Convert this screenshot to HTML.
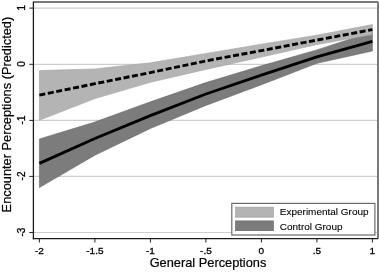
<!DOCTYPE html>
<html><head><meta charset="utf-8"><style>html,body{margin:0;padding:0;background:#fff;width:379px;height:272px;overflow:hidden}svg{display:block}</style></head>
<body><svg width="379" height="272" viewBox="0 0 379 272">
<style>
.g{stroke:#cdcdcd;stroke-width:1.2}
.t{stroke:#222;stroke-width:1}
.tl{font-family:"Liberation Sans",Arial,sans-serif;font-size:10px;fill:#000;stroke:#000;stroke-width:0.3px}
.ti{font-family:"Liberation Sans",Arial,sans-serif;font-size:12.8px;fill:#000;stroke:#000;stroke-width:0.2px}
.lg{font-family:"Liberation Sans",Arial,sans-serif;font-size:10px;fill:#000;stroke:#000;stroke-width:0.1px}
</style>
<rect x="0" y="0" width="379" height="272" fill="#fff"/>
<line x1="34" x2="377" y1="8.1" y2="8.1" class="g"/><line x1="34" x2="377" y1="64.3" y2="64.3" class="g"/><line x1="34" x2="377" y1="120.4" y2="120.4" class="g"/><line x1="34" x2="377" y1="176.4" y2="176.4" class="g"/><line x1="34" x2="377" y1="232.5" y2="232.5" class="g"/>
<polygon points="39.40,139.00 94.90,122.00 150.40,101.80 205.90,82.60 261.40,65.80 316.90,49.90 372.40,31.80 372.40,51.00 316.90,63.30 261.40,84.80 205.90,105.40 150.40,128.50 94.90,155.20 39.40,187.60" fill="#7c7c7c" stroke="#686868" stroke-width="0.6" stroke-linejoin="round"/>
<polygon points="39.40,70.60 94.90,68.90 150.40,62.80 205.90,53.50 261.40,44.20 316.90,35.20 372.40,24.60 372.40,34.60 316.90,44.60 261.40,57.10 205.90,69.40 150.40,82.30 94.90,98.60 39.40,120.20" fill="#b4b4b4" stroke="#a2a2a2" stroke-width="0.6" stroke-linejoin="round"/>
<polyline points="39.40,95.10 94.90,83.70 150.40,72.60 205.90,60.90 261.40,50.60 316.90,40.10 372.40,29.60" fill="none" stroke="#000" stroke-width="2.9" stroke-dasharray="6.0 2.59"/>
<polyline points="39.40,163.40 94.90,138.50 150.40,115.60 205.90,94.00 261.40,75.10 316.90,56.80 372.40,41.40" fill="none" stroke="#000" stroke-width="2.9"/>
<rect x="231.8" y="203.4" width="143.1" height="31.6" fill="#fff" stroke="#6a6a6a" stroke-width="1.2"/>
<rect x="235.5" y="207.1" width="38.0" height="10.1" fill="#b4b4b4" stroke="#9c9c9c" stroke-width="0.6"/>
<rect x="235.5" y="220.9" width="38.0" height="9.8" fill="#7c7c7c" stroke="#626262" stroke-width="0.6"/>
<text transform="translate(279.8 215.4) scale(1 0.91)" class="lg">Experimental Group</text>
<text transform="translate(279.8 230.0) scale(1 0.91)" class="lg">Control Group</text>
<line x1="33.5" y1="2" x2="378" y2="2" stroke="#7a7a7a" stroke-width="2"/>
<line x1="378" y1="2" x2="378" y2="238.4" stroke="#7a7a7a" stroke-width="2"/>
<line x1="33.4" y1="1.5" x2="33.4" y2="239.3" stroke="#1c1c1c" stroke-width="1.3"/>
<line x1="32.8" y1="238.6" x2="378" y2="238.6" stroke="#1c1c1c" stroke-width="1.4"/>
<line x1="29.3" x2="33" y1="8.1" y2="8.1" class="t"/><line x1="29.3" x2="33" y1="64.3" y2="64.3" class="t"/><line x1="29.3" x2="33" y1="120.4" y2="120.4" class="t"/><line x1="29.3" x2="33" y1="176.4" y2="176.4" class="t"/><line x1="29.3" x2="33" y1="232.5" y2="232.5" class="t"/><line x1="39.40" x2="39.40" y1="239" y2="242.5" class="t"/><line x1="94.90" x2="94.90" y1="239" y2="242.5" class="t"/><line x1="150.40" x2="150.40" y1="239" y2="242.5" class="t"/><line x1="205.90" x2="205.90" y1="239" y2="242.5" class="t"/><line x1="261.40" x2="261.40" y1="239" y2="242.5" class="t"/><line x1="316.90" x2="316.90" y1="239" y2="242.5" class="t"/><line x1="372.40" x2="372.40" y1="239" y2="242.5" class="t"/><text transform="translate(25.1 7.65) rotate(-90)" text-anchor="middle" class="tl">1</text><text transform="translate(25.1 63.85) rotate(-90)" text-anchor="middle" class="tl">0</text><text transform="translate(25.1 119.95) rotate(-90)" text-anchor="middle" class="tl">-1</text><text transform="translate(25.1 175.95) rotate(-90)" text-anchor="middle" class="tl">-2</text><text transform="translate(25.1 232.05) rotate(-90)" text-anchor="middle" class="tl">-3</text><text transform="translate(39.40 253.9) scale(1 0.93)" text-anchor="middle" class="tl">-2</text><text transform="translate(94.90 253.9) scale(1 0.93)" text-anchor="middle" class="tl">-1.5</text><text transform="translate(150.40 253.9) scale(1 0.93)" text-anchor="middle" class="tl">-1</text><text transform="translate(205.90 253.9) scale(1 0.93)" text-anchor="middle" class="tl">-.5</text><text transform="translate(261.40 253.9) scale(1 0.93)" text-anchor="middle" class="tl">0</text><text transform="translate(316.90 253.9) scale(1 0.93)" text-anchor="middle" class="tl">.5</text><text transform="translate(372.40 253.9) scale(1 0.93)" text-anchor="middle" class="tl">1</text>
<text transform="translate(10.8 114.6) rotate(-90)" text-anchor="middle" class="ti">Encounter Perceptions (Predicted)</text>
<text x="208.0" y="267.1" text-anchor="middle" class="ti">General Perceptions</text>
</svg></body></html>
